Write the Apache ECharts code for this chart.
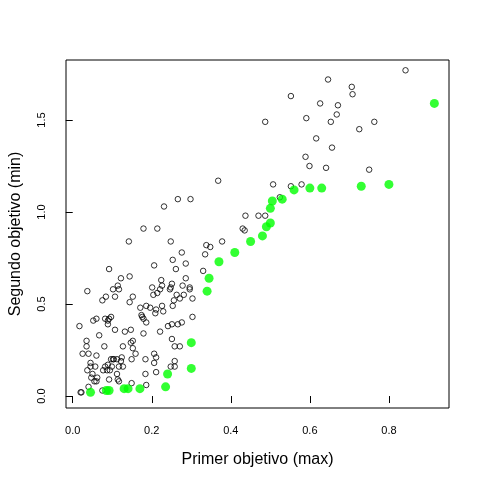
<!DOCTYPE html>
<html>
<head>
<meta charset="utf-8">
<script src="https://cdn.jsdelivr.net/npm/echarts@6/dist/echarts.min.js"></script>
<style>html,body{margin:0;padding:0;background:#fff}#c{width:480px;height:480px}</style>
</head>
<body>
<div id="c"></div>
<script>
// soluciones (primer objetivo, segundo objetivo)
const todasX = [.842,.646,.706,.708,.552,.626,.671,.668,.591,.653,.487,.763,.725,.616,.656,.589,.599,.641,.750,.368,.507,.552,.579,.524,.298,.437,.470,.487,.430,.435,.378,.338,.348,.335,
  .266,.231,.179,.214,.142,.248,.276,.253,.286,.206,.092,.261,.330,.122,.144,.224,.286,.251,.114,.201,.226,.248,.278,.296,.296,.102,.117,.037,.221,.246,.204,.214,.084,.107,.152,.263,.281,.271,.303,.075,.144,.256,.226,.253,.171,.186,.196,.211,.229,.209,.174,.176,.303,
  .097,.092,.082,.089,.052,.060,.179,.186,.089,.017,.276,.266,.251,.241,.147,.107,.132,.221,.179,.067,.152,.251,.035,.147,.035,.080,.127,.258,.271,.152,.025,.040,.060,.159,.206,.211,
  .097,.104,.124,.102,.112,.122,.149,.184,.258,.045,.206,.057,.045,.089,.082,.099,.127,.117,.248,.258,.037,.077,.087,.094,.050,.112,.184,.211,.047,.062,.092,.114,.117,.055,.060,.149,.186,.040,.075,.020,.022];
const todasY = [1.77,1.72,1.68,1.64,1.63,1.59,1.58,1.53,1.51,1.49,1.49,1.49,1.45,1.40,1.35,1.30,1.25,1.24,1.23,1.17,1.15,1.14,1.15,1.08,1.07,.98,.98,.98,.91,.90,.84,.82,.81,.77,
  1.07,1.03,.91,.91,.84,.84,.78,.74,.72,.71,.69,.69,.68,.64,.65,.63,.64,.61,.60,.59,.60,.59,.60,.59,.58,.58,.58,.57,.58,.58,.55,.56,.54,.54,.54,.55,.55,.53,.53,.52,.51,.52,.49,.49,.48,.49,.48,.47,.46,.45,.44,.43,.43,
  .43,.42,.42,.41,.41,.42,.42,.40,.39,.38,.40,.39,.39,.38,.36,.36,.35,.35,.34,.33,.30,.31,.30,.29,.27,.27,.27,.27,.27,.26,.23,.23,.22,.23,.23,.21,
  .20,.20,.21,.20,.20,.19,.20,.20,.19,.18,.18,.16,.16,.17,.16,.16,.16,.16,.16,.16,.14,.14,.14,.14,.12,.12,.12,.13,.10,.10,.09,.09,.08,.08,.08,.07,.06,.05,.03,.02,.02];
// frente de Pareto
const paretoX = [.045,.085,.092,.13,.14,.17,.235,.24,.30,.30,.34,.345,.37,.41,.45,.48,.49,.50,.50,.505,.53,.56,.60,.63,.73,.80,.915];
const paretoY = [.02,.03,.03,.04,.04,.04,.05,.12,.15,.29,.57,.64,.73,.78,.84,.87,.92,.94,1.02,1.06,1.07,1.12,1.13,1.13,1.14,1.15,1.59];
const xTicks = [0, 0.2, 0.4, 0.6, 0.8];
const yTicks = [0, 0.5, 1, 1.5];

const chart = echarts.init(document.getElementById('c'));
const lbl = {color:'#000', fontSize:11, fontFamily:'Liberation Sans'};
chart.setOption({
  animation: false,
  grid: {left:59, right:31, top:60, bottom:72, show:true, borderColor:'#000', borderWidth:1, backgroundColor:'transparent'},
  xAxis: {
    type:'value', min:-0.017, max:0.952,
    name:'Primer objetivo (max)', nameLocation:'middle', nameGap:44,
    nameTextStyle:{color:'#000', fontSize:16, fontFamily:'Liberation Sans'},
    axisLine:{show:false}, splitLine:{show:false},
    axisTick:{show:true, inside:false, length:7, lineStyle:{color:'#000'}, customValues:xTicks},
    axisLabel:Object.assign({customValues:xTicks, margin:17, formatter:v=>v.toFixed(1)}, lbl)
  },
  yAxis: {
    type:'value', min:-0.065, max:1.826,
    name:'Segundo objetivo (min)', nameLocation:'middle', nameGap:42,
    nameTextStyle:{color:'#000', fontSize:16, fontFamily:'Liberation Sans'},
    axisLine:{show:false}, splitLine:{show:false},
    axisTick:{show:true, inside:false, length:7, lineStyle:{color:'#000'}, customValues:yTicks},
    axisLabel:Object.assign({customValues:yTicks, margin:19, rotate:90, formatter:v=>v.toFixed(1)}, lbl)
  },
  series: [
    {type:'scatter', data:todasX.map((x,i)=>[x,todasY[i]]), symbolSize:5.5,
     itemStyle:{color:'transparent', borderColor:'#000', borderWidth:1}},
    {type:'scatter', data:paretoX.map((x,i)=>[x,paretoY[i]]), symbolSize:9,
     itemStyle:{color:'#00ff00'}}
  ]
});
</script>
</body>
</html>
